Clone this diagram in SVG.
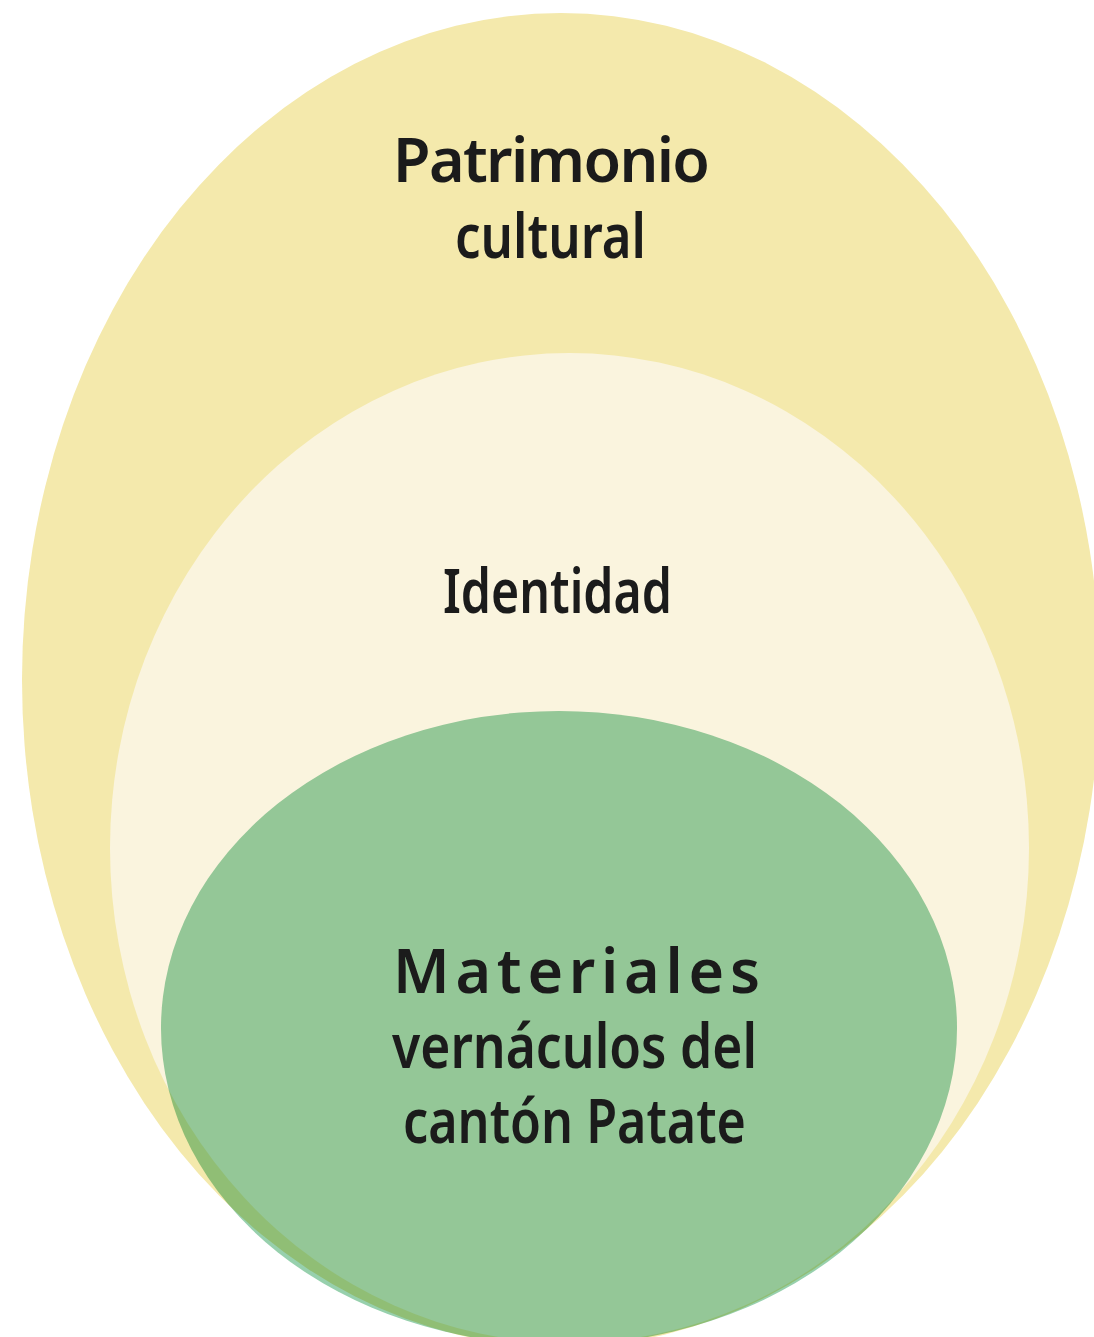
<svg xmlns="http://www.w3.org/2000/svg" width="1094" height="1337" viewBox="0 0 1094 1337">
<style>
.lbl{font-family:"Noto Sans","Liberation Sans",sans-serif;font-size:61px;font-weight:600;fill:#1b1b1b}
</style>
<rect width="1094" height="1337" fill="#ffffff"/>
<g id="patrimonio">
<ellipse cx="561" cy="680" rx="539" ry="667" fill="#F4E9AC"/>
<text class="lbl" x="393" y="182" textLength="317" lengthAdjust="spacing">Patrimonio</text>
<text class="lbl" x="455" y="258" textLength="191" lengthAdjust="spacingAndGlyphs">cultural</text>
</g>
<g id="identidad">
<ellipse cx="569.5" cy="848" rx="459.5" ry="495" fill="#FAF4DE"/>
<text class="lbl" x="443" y="613" textLength="229" lengthAdjust="spacingAndGlyphs">Identidad</text>
</g>
<g id="materiales">
<ellipse cx="559" cy="1028" rx="398" ry="317" fill="#97D0AD" style="mix-blend-mode:multiply"/>
<text class="lbl" x="393" y="993" textLength="367" lengthAdjust="spacing">Materiales</text>
<text class="lbl" x="392" y="1068" textLength="365" lengthAdjust="spacingAndGlyphs">vernáculos del</text>
<text class="lbl" x="403" y="1143" textLength="343" lengthAdjust="spacingAndGlyphs">cantón Patate</text>
</g>
<g id="connectors"></g>
</svg>
